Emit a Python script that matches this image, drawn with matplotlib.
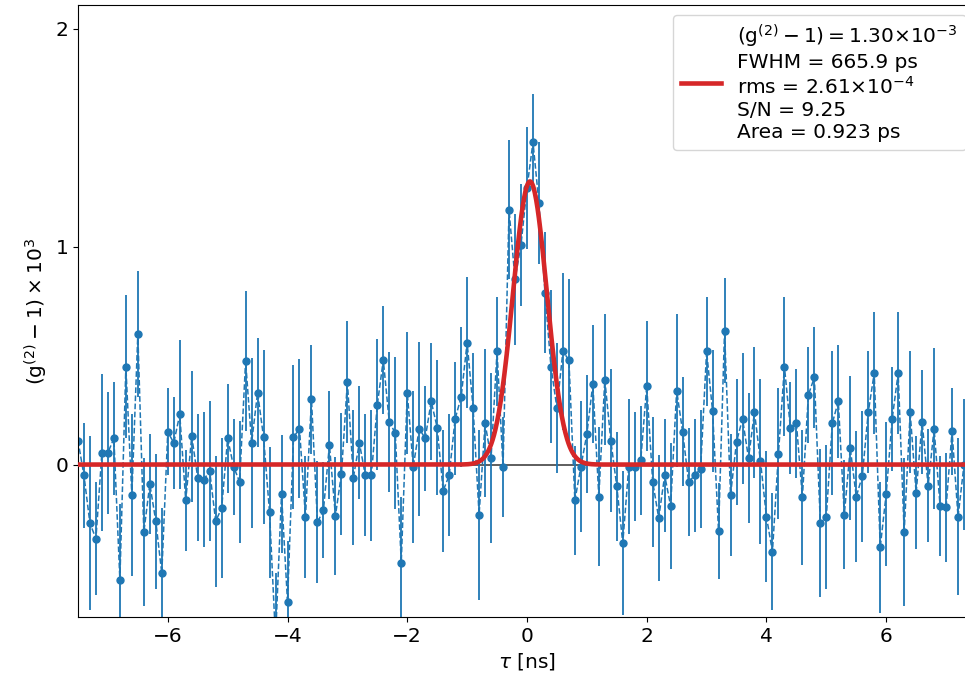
import numpy as np
import matplotlib
matplotlib.use("Agg")
import matplotlib.pyplot as plt

# measured g2 - 1 (x 1e3) on a 0.1 ns grid, with 1-sigma errors
tau = np.round(np.arange(-75, 74) * 0.1, 1)

g2 = [0.11, -0.05, -0.27, -0.34, 0.055, 0.055, 0.12, -0.53, 0.45, -0.14,
      0.60, -0.31, -0.09, -0.26, -0.50, 0.15, 0.10, 0.23, -0.165, 0.13,
      -0.06, -0.07, -0.03, -0.26, -0.20, 0.12, -0.01, -0.08, 0.475, 0.10,
      0.33, 0.125, -0.22, -0.80, -0.135, -0.63, 0.125, 0.165, -0.24, 0.30,
      -0.265, -0.21, 0.09, -0.235, -0.045, 0.38, -0.06, 0.10, -0.05, -0.05,
      0.275, 0.48, 0.195, 0.145, -0.45, 0.33, -0.01, 0.165, 0.12, 0.29,
      0.17, -0.12, -0.05, 0.21, 0.31, 0.56, 0.26, -0.23, 0.19, 0.03,
      0.52, -0.01, 1.17, 0.85, 1.01, 1.27, 1.48, 1.20, 0.79, 0.45,
      0.26, 0.52, 0.48, -0.165, -0.01, 0.14, 0.37, -0.147, 0.39, 0.11,
      -0.10, -0.36, -0.01, -0.01, 0.02, 0.36, -0.08, -0.245, -0.05, -0.19,
      0.34, 0.15, -0.08, -0.05, -0.02, 0.52, 0.245, -0.305, 0.615, -0.14,
      0.105, 0.21, 0.03, 0.24, 0.015, -0.24, -0.40, 0.05, 0.45, 0.167,
      0.19, -0.15, 0.32, 0.40, -0.27, -0.24, 0.19, 0.29, -0.23, 0.075,
      -0.147, -0.054, 0.24, 0.42, -0.38, -0.135, 0.21, 0.42, -0.31, 0.24,
      -0.13, 0.195, -0.097, 0.164, -0.19, -0.196, 0.153, -0.24, 0.00]

err = [0.30, 0.24, 0.40, 0.26, 0.36, 0.28, 0.26, 0.35, 0.33, 0.37,
       0.29, 0.34, 0.23, 0.31, 0.30, 0.20, 0.21, 0.34, 0.23, 0.30,
       0.29, 0.31, 0.32, 0.30, 0.32, 0.25, 0.22, 0.28, 0.32, 0.39,
       0.25, 0.40, 0.30, 0.30, 0.27, 0.28, 0.33, 0.32, 0.28, 0.25,
       0.28, 0.22, 0.25, 0.27, 0.28, 0.28, 0.31, 0.26, 0.28, 0.30,
       0.30, 0.25, 0.32, 0.35, 0.30, 0.28, 0.35, 0.40, 0.24, 0.27,
       0.31, 0.28, 0.28, 0.26, 0.32, 0.30, 0.25, 0.39, 0.34, 0.39,
       0.25, 0.23, 0.32, 0.30, 0.28, 0.28, 0.22, 0.28, 0.28, 0.35,
       0.30, 0.36, 0.37, 0.25, 0.30, 0.27, 0.27, 0.32, 0.30, 0.33,
       0.25, 0.33, 0.31, 0.25, 0.25, 0.30, 0.30, 0.29, 0.26, 0.29,
       0.35, 0.25, 0.25, 0.26, 0.27, 0.25, 0.28, 0.22, 0.24, 0.28,
       0.29, 0.30, 0.30, 0.30, 0.38, 0.30, 0.27, 0.30, 0.32, 0.21,
       0.25, 0.31, 0.22, 0.23, 0.34, 0.33, 0.33, 0.26, 0.25, 0.33,
       0.30, 0.30, 0.28, 0.28, 0.30, 0.33, 0.24, 0.28, 0.34, 0.28,
       0.26, 0.24, 0.26, 0.37, 0.23, 0.25, 0.20, 0.36, 0.30]

# gaussian fit results
amp = 1.30      # x 1e-3
fwhm = 0.6659   # ns
t0 = 0.05       # ns
snr = 9.25
area = 0.923    # ps

plt.rcParams['font.size'] = 14.5

fig = plt.figure(figsize=(9.65, 6.79), dpi=100)
ax = fig.add_axes([0.0808, 0.0913, 0.9306, 0.9013])

ax.axhline(0, color='k', lw=1.1, alpha=0.8, zorder=1)
ax.errorbar(tau, g2, yerr=err, fmt='o--', color='C0', ms=5, lw=1.1,
            elinewidth=1.3, zorder=2)

sigma = fwhm / (2 * np.sqrt(2 * np.log(2)))
tt = np.linspace(-7.5, 7.5, 2000)
fit = amp * np.exp(-0.5 * ((tt - t0) / sigma) ** 2)
label = (r'$(\mathrm{g}^{(2)}-1) = 1.30{\times}10^{-3}$' + '\n'
         + f'FWHM = {fwhm*1000:.1f} ps\n'
         + r'rms = $2.61{\times}10^{-4}$' + '\n'
         + f'S/N = {snr:.2f}\n'
         + f'Area = {area:.3f} ps')
ax.plot(tt, fit, color='#d62728', lw=3.3, label=label, zorder=3)

ax.set_xlim(-7.5, 7.5)
ax.set_ylim(-0.7, 2.11)
ax.set_xticks([-6, -4, -2, 0, 2, 4, 6])
ax.set_yticks([0, 1, 2])
ax.set_xlabel(r'$\tau$ [ns]')
ax.set_ylabel(r'$(\mathrm{g}^{(2)}-1)\times10^3$')
ax.legend(loc='upper right')

fig.savefig('out.png', dpi=100)
